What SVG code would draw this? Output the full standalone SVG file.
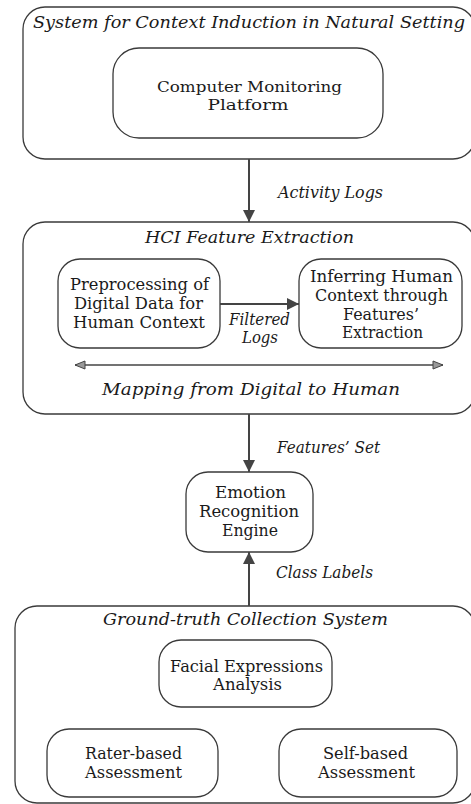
<svg xmlns="http://www.w3.org/2000/svg" width="471" height="804" viewBox="0 0 471 804">
<defs>
<style>
.box{fill:#fff;stroke:#3a3a3a;stroke-width:1.3}
.t{font-family:"DejaVu Serif","Liberation Serif",serif;font-size:16px;fill:#1a1a1a;text-anchor:middle}
.i{font-family:"DejaVu Serif","Liberation Serif",serif;font-size:16px;font-style:italic;fill:#1a1a1a}
.ti{font-size:17px;text-anchor:middle}
.sm{font-size:15px}
.s{text-anchor:start}
.c{text-anchor:middle}
.ar{stroke:#444;stroke-width:2;fill:none}
.dbl{stroke:#444;stroke-width:1.5;fill:none}
</style>
<marker id="ah" markerUnits="userSpaceOnUse" markerWidth="12" markerHeight="12" refX="12" refY="6" orient="auto">
<path d="M0,0 L12,6 L0,12 z" fill="#444"/>
</marker>
<marker id="oh" markerUnits="userSpaceOnUse" markerWidth="12" markerHeight="10" refX="11" refY="5" orient="auto-start-reverse">
<path d="M1,1 L11,5 L1,9 z" fill="#999" stroke="#444" stroke-width="1"/>
</marker>
</defs>

<g id="system-context-induction">
<rect class="box" x="23" y="7" width="452" height="152" rx="22"/>
<text class="i ti" x="249" y="28" textLength="432" lengthAdjust="spacingAndGlyphs">System for Context Induction in Natural Setting</text>
</g>
<g id="computer-monitoring-platform">
<rect class="box" x="113" y="48" width="270" height="90" rx="26"/>
<text class="t sm" x="249.5" y="91.5" textLength="185" lengthAdjust="spacingAndGlyphs">Computer Monitoring</text>
<text class="t sm" x="248" y="109.5" textLength="81" lengthAdjust="spacingAndGlyphs">Platform</text>
</g>

<g id="hci-feature-extraction">
<rect class="box" x="23" y="222" width="452" height="192" rx="22"/>
<text class="i ti" x="249.5" y="243" textLength="209" lengthAdjust="spacingAndGlyphs">HCI Feature Extraction</text>
<text class="i ti" x="251" y="395" textLength="298" lengthAdjust="spacingAndGlyphs">Mapping from Digital to Human</text>
</g>
<g id="preprocessing">
<rect class="box" x="58" y="259" width="162" height="89" rx="22"/>
<text class="t" x="139.5" y="290" textLength="139" lengthAdjust="spacingAndGlyphs">Preprocessing of</text>
<text class="t" x="138.5" y="309" textLength="129" lengthAdjust="spacingAndGlyphs">Digital Data for</text>
<text class="t" x="139" y="328" textLength="132" lengthAdjust="spacingAndGlyphs">Human Context</text>
</g>
<g id="inferring-human-context">
<rect class="box" x="299" y="259" width="163" height="89" rx="22"/>
<text class="t" x="381.5" y="281.5" textLength="143" lengthAdjust="spacingAndGlyphs">Inferring Human</text>
<text class="t" x="381.5" y="300.5" textLength="133" lengthAdjust="spacingAndGlyphs">Context through</text>
<text class="t" x="381" y="319.5" textLength="76" lengthAdjust="spacingAndGlyphs">Features’</text>
<text class="t" x="382.5" y="338" textLength="81" lengthAdjust="spacingAndGlyphs">Extraction</text>
</g>

<g id="emotion-recognition-engine">
<rect class="box" x="186" y="472" width="127" height="80" rx="22"/>
<text class="t" x="250.5" y="498" textLength="71" lengthAdjust="spacingAndGlyphs">Emotion</text>
<text class="t" x="249" y="517" textLength="100" lengthAdjust="spacingAndGlyphs">Recognition</text>
<text class="t" x="250" y="536" textLength="56" lengthAdjust="spacingAndGlyphs">Engine</text>
</g>

<g id="ground-truth-collection-system">
<rect class="box" x="15" y="606" width="460" height="197" rx="22"/>
<text class="i ti" x="245.5" y="625" textLength="285" lengthAdjust="spacingAndGlyphs">Ground-truth Collection System</text>
</g>
<g id="facial-expressions-analysis">
<rect class="box" x="159" y="640" width="173" height="67" rx="22"/>
<text class="t" x="246.5" y="672" textLength="153" lengthAdjust="spacingAndGlyphs">Facial Expressions</text>
<text class="t" x="247.5" y="690" textLength="69" lengthAdjust="spacingAndGlyphs">Analysis</text>
</g>
<g id="rater-based-assessment">
<rect class="box" x="47" y="729" width="171" height="68" rx="22"/>
<text class="t" x="133.5" y="759" textLength="97" lengthAdjust="spacingAndGlyphs">Rater-based</text>
<text class="t" x="133.5" y="778" textLength="97" lengthAdjust="spacingAndGlyphs">Assessment</text>
</g>
<g id="self-based-assessment">
<rect class="box" x="279" y="729" width="178" height="68" rx="22"/>
<text class="t" x="365.5" y="759" textLength="85" lengthAdjust="spacingAndGlyphs">Self-based</text>
<text class="t" x="366.5" y="778" textLength="97" lengthAdjust="spacingAndGlyphs">Assessment</text>
</g>

<g id="connectors">
<line class="ar" x1="249" y1="159" x2="249" y2="222" marker-end="url(#ah)"/>
<text class="i s" x="278" y="198" textLength="105" lengthAdjust="spacingAndGlyphs">Activity Logs</text>
<line class="ar" x1="220" y1="304" x2="299" y2="304" marker-end="url(#ah)"/>
<text class="i c" x="259.5" y="325" textLength="61" lengthAdjust="spacingAndGlyphs">Filtered</text>
<text class="i c" x="260" y="343" textLength="36" lengthAdjust="spacingAndGlyphs">Logs</text>
<line class="dbl" x1="75" y1="365" x2="443" y2="365" marker-start="url(#oh)" marker-end="url(#oh)"/>
<line class="ar" x1="249" y1="414" x2="249" y2="472" marker-end="url(#ah)"/>
<text class="i s" x="277" y="453" textLength="103" lengthAdjust="spacingAndGlyphs">Features’ Set</text>
<line class="ar" x1="249" y1="606" x2="249" y2="552" marker-end="url(#ah)"/>
<text class="i s" x="276" y="578" textLength="97" lengthAdjust="spacingAndGlyphs">Class Labels</text>
</g>
</svg>
